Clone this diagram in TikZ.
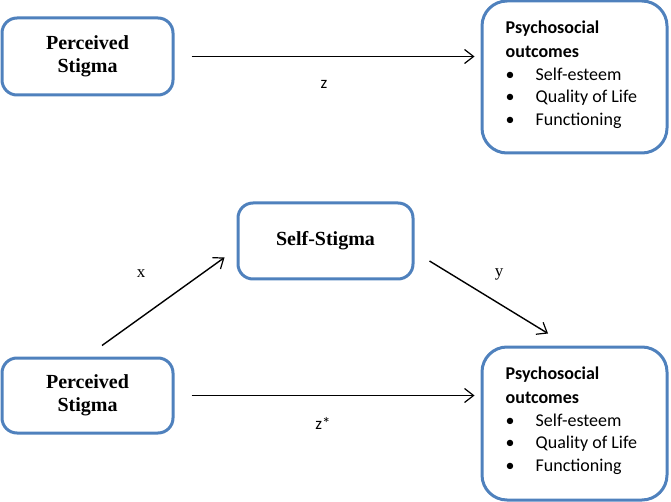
\documentclass[tikz,border=0pt]{standalone}
\usepackage{fontspec}
\setmainfont{Liberation Serif}
\newfontfamily\calib{Carlito}
\usetikzlibrary{arrows.meta}
\definecolor{boxblue}{HTML}{4F81BD}
\tikzset{
  lbox/.style={draw=boxblue, line width=3pt, rounded corners=15pt, align=center,
    font=\fontsize{20}{23}\selectfont\bfseries, inner sep=0pt},
  rbox/.style={draw=boxblue, line width=3pt, rounded corners=25pt, inner sep=0pt},
  conn/.style={line width=1.4pt, -{Straight Barb[length=9pt,width=14pt,line width=1.2pt]}},
  lbl/.style={font=\fontsize{17}{20}\selectfont, inner sep=0pt},
  outtxt/.style={font=\calib\fontsize{18}{23}\selectfont, anchor=west, inner sep=0pt}
}
\begin{document}
\begin{tikzpicture}[x=1pt,y=-1pt]
\useasboundingbox (0,0) rectangle (671,502);
% boxes
\node[lbox, minimum width=171pt, minimum height=77pt] (tl) at (87.5,56.5) {Perceived\\Stigma};
\node[rbox, minimum width=185pt, minimum height=152pt] (tr) at (574.5,77) {};
\node[lbox, minimum width=175pt, minimum height=76pt] (ss) at (325.5,241) {Self-Stigma};
\node[lbox, minimum width=171pt, minimum height=75pt] (bl) at (87.5,395.5) {Perceived\\Stigma};
\node[rbox, minimum width=185pt, minimum height=153pt] (br) at (574.5,423.5) {};
% texts in right boxes
\foreach \b/\dy in {tr/-77, br/-76.5} {
  \node[outtxt, font=\calib\fontsize{18}{23}\selectfont\bfseries] (\b h1) at ([xshift=-69pt,yshift=-29pt]\b.north) {Psychosocial};
  \node[outtxt, font=\calib\fontsize{18}{23}\selectfont\bfseries] (\b h2) at ([xshift=-69pt,yshift=-52pt]\b.north) {outcomes};
  \node[outtxt] (\b b1) at ([xshift=-69pt,yshift=-75pt]\b.north) {\hbox to 30pt{\textbullet\hfil}Self-esteem};
  \node[outtxt] (\b b2) at ([xshift=-69pt,yshift=-98pt]\b.north) {\hbox to 30pt{\textbullet\hfil}Quality of Life};
  \node[outtxt] (\b b3) at ([xshift=-69pt,yshift=-121pt]\b.north) {\hbox to 30pt{\textbullet\hfil}Functioning};
}
% connectors
\draw[conn, shorten <=17pt, shorten >=6pt] (tl.east) -- (tl.east -| tr.west);
\draw[conn, shorten <=17pt, shorten >=6pt] (bl.east) -- (bl.east -| br.west);
\draw[conn] ([xshift=14.5pt,yshift=11pt]bl.north) -- ([xshift=-12pt,yshift=23pt]ss.south west);
\draw[conn] ([xshift=15pt,yshift=-20pt]ss.east) -- ([xshift=-26.5pt,yshift=12pt]br.north);
% labels
\node[lbl, font=\calib\fontsize{17}{20}\selectfont] (lz) at (324,84) {z};
\node[lbl, font=\calib\fontsize{17}{20}\selectfont] (lzs) at (323,423) {z*};
\node[lbl] (lx) at (141,274) {x};
\node[lbl] (ly) at (499,274) {y};
\end{tikzpicture}
\end{document}
